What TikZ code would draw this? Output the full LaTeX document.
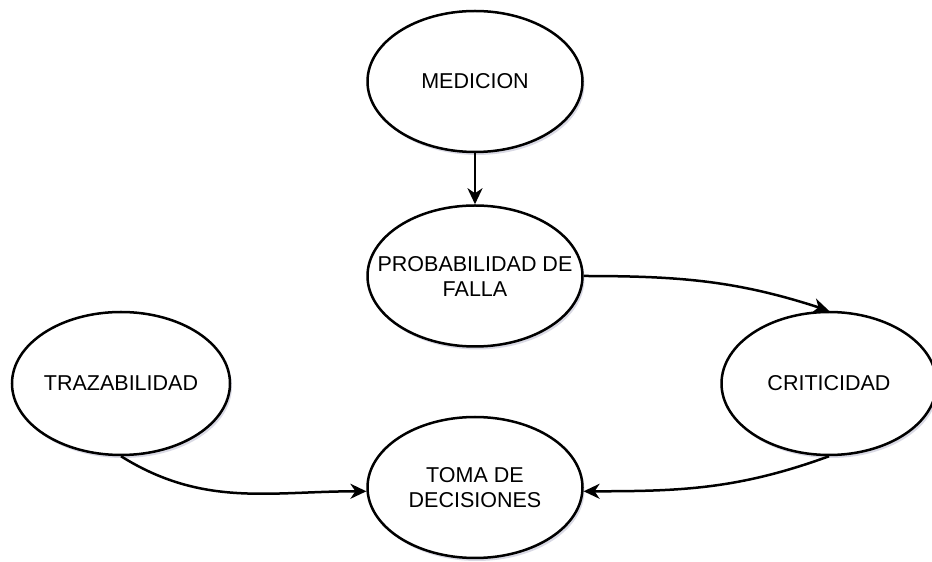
\documentclass[tikz,border=0pt]{standalone}
\usepackage{fontspec}
\setmainfont{Liberation Sans}
\usetikzlibrary{shapes.geometric,arrows.meta,shadows}

\tikzset{
  burbuja/.style={ellipse,draw,line width=2.5pt,fill=white,
    minimum width=215pt,minimum height=141pt,inner sep=0pt,align=center,
    font=\fontsize{21.5}{25}\selectfont,
    drop shadow={opacity=0.15,shadow xshift=2pt,shadow yshift=-3pt,fill=black!70!blue}},
  flecha/.style={line width=2.5pt,-{Stealth[length=16pt,width=15pt,inset=5pt]}}
}

\begin{document}
\begin{tikzpicture}[x=1pt,y=1pt]
   \useasboundingbox (0,0) rectangle (932,562);

   \node[burbuja] (med) at (475,480.5) {MEDICION};
   \node[burbuja,inner xsep=-24pt] (prob) at (475,286) {PROBABILIDAD DE\\FALLA};
   \node[burbuja,minimum width=218pt,minimum height=143pt] (traz) at (121,178.5) {TRAZABILIDAD};
   \node[burbuja,minimum height=143pt] (crit) at (829,178.5) {CRITICIDAD};
   \node[burbuja,inner xsep=-8pt] (toma) at (475,74.5) {TOMA DE\\DECISIONES};

   \draw[flecha] (med) -- (prob);
   \draw[flecha] (prob.east) to[out=0,in=162] (crit.north);
   \draw[flecha] (traz.south) to[out=-32,in=180] (toma.182);
   \draw[flecha] (crit.south) to[out=-160,in=0] (toma.358);

\end{tikzpicture}
\end{document}
